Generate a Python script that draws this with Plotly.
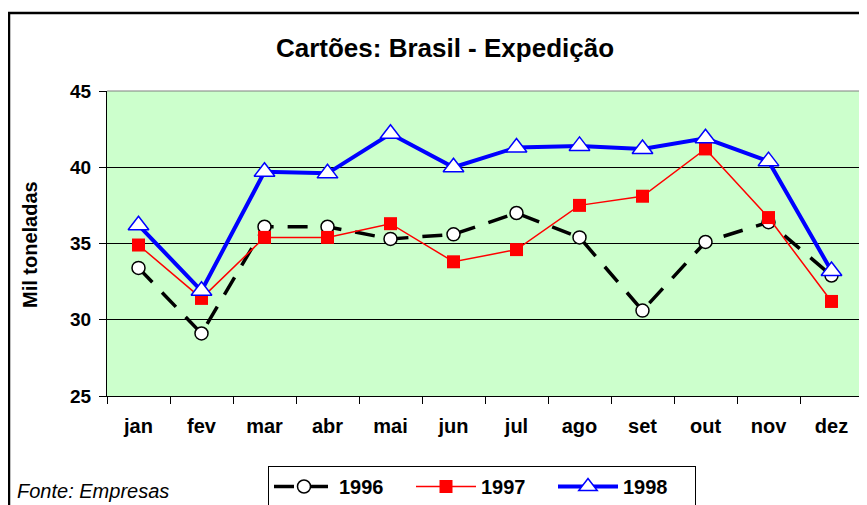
import plotly.graph_objects as go

meses = ["jan", "fev", "mar", "abr", "mai", "jun", "jul", "ago", "set", "out", "nov", "dez"]

v1996 = [33.4, 29.1, 36.1, 36.1, 35.3, 35.6, 37.0, 35.4, 30.6, 35.1, 36.4, 32.9]
v1997 = [34.9, 31.4, 35.4, 35.4, 36.3, 33.8, 34.6, 37.5, 38.1, 41.2, 36.7, 31.2]
v1998 = [36.2, 31.9, 39.7, 39.6, 42.2, 40.0, 41.3, 41.4, 41.2, 41.9, 40.4, 33.2]

fonte = "Arial, Liberation Sans, sans-serif"

# the page body adds an 8px margin, so the figure is drawn 8px smaller
W, H = 859, 497
L, T, R, B = 99, 83, 4, 109
PW, PH = W - L - R, H - T - B


def px(xp):
    # page x pixel -> paper x
    return (xp - 8 - L) / PW


def py(yp):
    # page y pixel -> paper y
    return (H - B - (yp - 8)) / PH


fig = go.Figure()

fig.add_trace(go.Scatter(
    x=meses, y=v1996, name="<b>1996</b>", mode="lines+markers",
    line=dict(color="black", width=3.5, dash="20px,14px"),
    marker=dict(symbol="circle", size=13, color="white", line=dict(color="black", width=1.5)),
))
fig.add_trace(go.Scatter(
    x=meses, y=v1997, name="<b>1997</b>", mode="lines+markers",
    line=dict(color="#ff0000", width=1.5),
    marker=dict(symbol="square", size=13, color="#ff0000"),
))
fig.add_trace(go.Scatter(
    x=meses, y=v1998, name="<b>1998</b>", mode="lines+markers",
    line=dict(color="#0000ff", width=4),
    marker=dict(symbol="triangle-up", size=18, color="white", line=dict(color="#0000ff", width=1.5)),
))

fig.update_layout(
    width=W, height=H,
    margin=dict(l=L, r=R, t=T, b=B, autoexpand=False),
    paper_bgcolor="white",
    plot_bgcolor="#ccffcc",
    font=dict(family=fonte, color="black"),
    showlegend=True,
    title=dict(
        text="<b>Cartões: Brasil - Expedição</b>",
        font=dict(size=26, family=fonte),
        x=px(445), xref="paper", xanchor="center",
        y=1 - 40 / H, yref="container", yanchor="middle",
    ),
    legend=dict(
        orientation="h",
        x=px(268), xanchor="left",
        y=py(466), yanchor="top",
        bordercolor="black", borderwidth=1,
        bgcolor="white",
        font=dict(size=20, family=fonte),
        itemwidth=60,
        entrywidth=67,
    ),
    xaxis=dict(
        type="category",
        range=[-0.5, 11.5],
        tickson="boundaries",
        ticks="outside", ticklen=7, tickcolor="black",
        showline=True, linecolor="black", linewidth=1,
        showgrid=False,
        tickfont=dict(size=20, family=fonte),
        ticklabelstandoff=12,
        tickprefix="<b>", ticksuffix="</b>",
        zeroline=False,
    ),
    yaxis=dict(
        range=[25, 45],
        dtick=5,
        ticks="outside", ticklen=7, tickcolor="black",
        showline=True, linecolor="black", linewidth=1,
        showgrid=True, gridcolor="black", gridwidth=1,
        tickfont=dict(size=19, family=fonte),
        tickprefix="<b>", ticksuffix="</b>",
        ticklabelstandoff=4,
        zeroline=False,
    ),
)

# gray border on top/right of plot area
fig.add_shape(type="line", xref="paper", yref="paper", x0=0, x1=1, y0=1, y1=1,
              line=dict(color="#808080", width=1))
fig.add_shape(type="line", xref="paper", yref="paper", x0=1, x1=1, y0=0, y1=1,
              line=dict(color="#808080", width=1))

# outer chart frame (right/bottom edges fall outside the picture)
fig.add_shape(type="rect", xref="paper", yref="paper",
              x0=px(9), x1=px(880), y0=py(520), y1=py(13),
              line=dict(color="black", width=2.5), layer="above")

fig.add_annotation(
    text="<b>Mil toneladas</b>", textangle=-90,
    xref="paper", yref="paper",
    x=px(30), y=py(245),
    xanchor="center", yanchor="middle",
    showarrow=False, font=dict(size=20, family=fonte),
)
fig.add_annotation(
    text="<i>Fonte: Empresas</i>",
    xref="paper", yref="paper",
    x=px(15), y=py(491),
    xanchor="left", yanchor="middle",
    showarrow=False, font=dict(size=20, family=fonte),
)

fig.write_html("out.html")
